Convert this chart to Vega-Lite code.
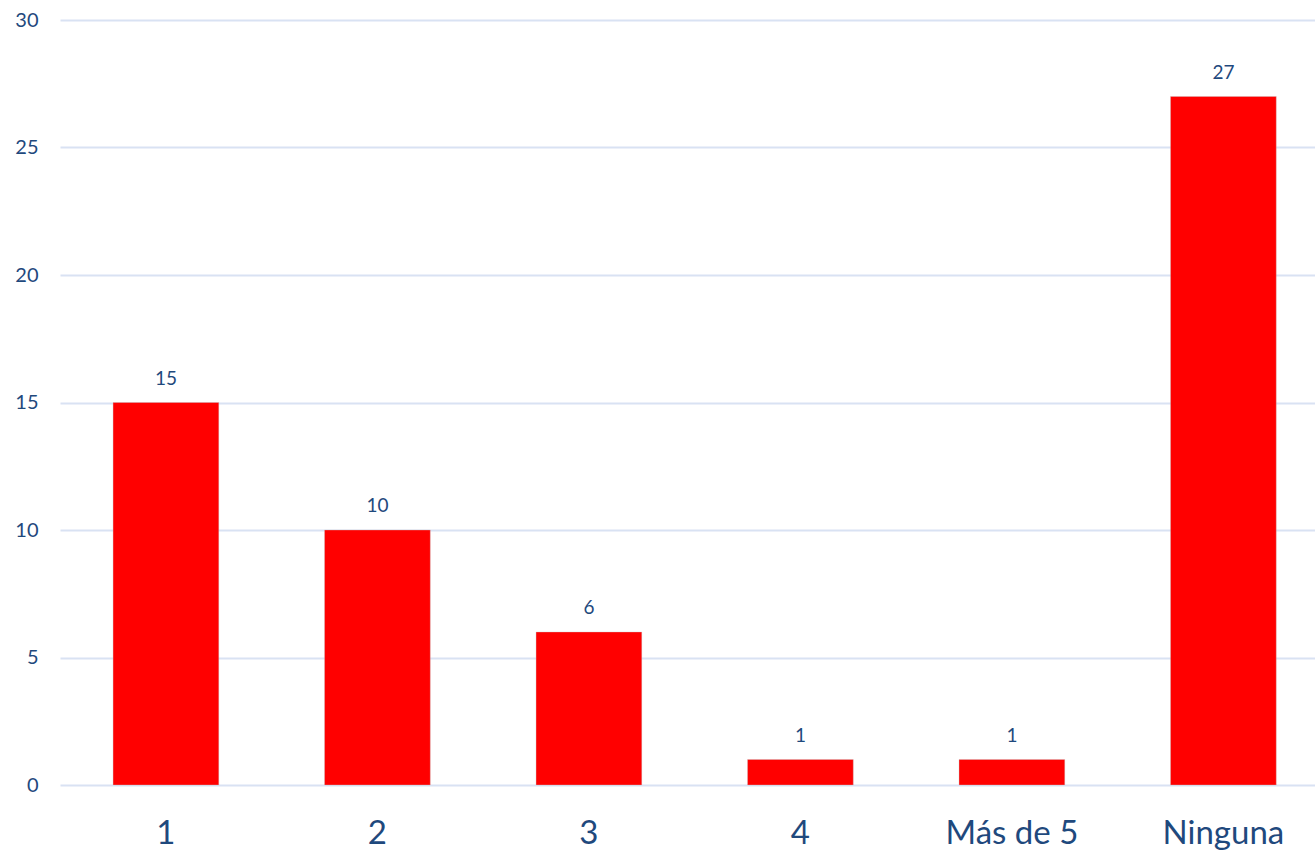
{
  "$schema": "https://vega.github.io/schema/vega-lite/v6.json",
  "width": 1255,
  "height": 765,
  "autosize": {"type": "none"},
  "padding": {"left": 60, "top": 20, "right": 0, "bottom": 67},
  "background": "white",
  "config": {
    "view": {"stroke": null},
    "font": "Lato"
  },
  "data": {
    "values": [
      {"cat": "1", "value": 15},
      {"cat": "2", "value": 10},
      {"cat": "3", "value": 6},
      {"cat": "4", "value": 1},
      {"cat": "Más de 5", "value": 1},
      {"cat": "Ninguna", "value": 27}
    ]
  },
  "encoding": {
    "x": {
      "field": "cat",
      "type": "nominal",
      "sort": null,
      "scale": {"paddingInner": 0.5, "paddingOuter": 0.217, "align": 0.578},
      "axis": {
        "title": null,
        "labelAngle": 0,
        "labelFontSize": 33,
        "labelColor": "#1f497d",
        "labelPadding": 32,
        "ticks": false,
        "domain": false,
        "grid": false
      }
    },
    "y": {
      "field": "value",
      "type": "quantitative",
      "scale": {"domain": [0, 30], "nice": false},
      "axis": {
        "title": null,
        "values": [0, 5, 10, 15, 20, 25, 30],
        "labelFontSize": 20,
        "labelColor": "#1f497d",
        "labelPadding": 22,
        "ticks": false,
        "domain": false,
        "grid": true,
        "gridColor": "#d9e2f3",
        "gridWidth": 2
      }
    }
  },
  "layer": [
    {
      "mark": {"type": "bar", "color": "#ff0000", "stroke": "#c8c8c8", "strokeWidth": 0.6, "strokeOpacity": 0.6}
    },
    {
      "mark": {"type": "text", "baseline": "bottom", "dy": -14, "fontSize": 19, "color": "#1f497d"},
      "encoding": {"text": {"field": "value", "type": "quantitative"}}
    }
  ]
}
